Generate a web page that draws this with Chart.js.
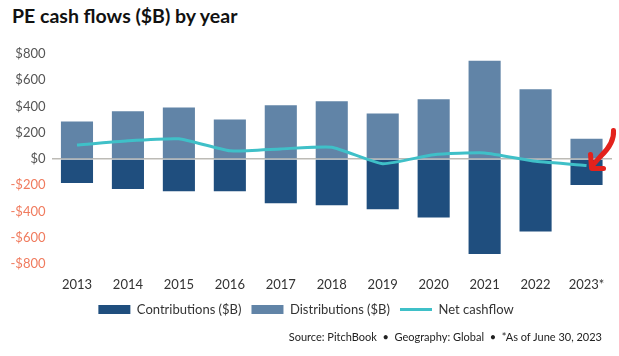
<!DOCTYPE html>
<html>
<head>
<meta charset="utf-8">
<script src="https://cdn.jsdelivr.net/npm/chart.js@4.4.1/dist/chart.umd.min.js"></script>
<style>
  html, body { margin: 0; padding: 0; background: #fff; }
  #wrap { position: relative; width: 619px; height: 356px; overflow: hidden; }
  #title { position: absolute; left: 12px; top: 4px; font-family: Lato, "Open Sans", sans-serif; font-weight: 700; font-size: 19.5px; color: #111; white-space: nowrap; }
  #source { position: absolute; right: 17px; top: 330px; font-family: Lato, "Open Sans", sans-serif; font-size: 11px; color: #222; white-space: nowrap; }
  #c { position: absolute; left: 0; top: 0; }
</style>
</head>
<body>
<div id="wrap">
  <div id="title">PE cash flows ($B) by year</div>
  <canvas id="c" width="619" height="356"></canvas>
  <div id="source">Source: PitchBook &nbsp;•&nbsp; Geography: Global &nbsp;•&nbsp; *As of June 30, 2023</div>
</div>
<script>
const years = ['2013','2014','2015','2016','2017','2018','2019','2020','2021','2022','2023*'];
const contributions = [-183,-229,-245,-245,-337,-352,-383,-445,-723,-553,-198];
const distributions = [285,363,393,301,409,440,347,455,748,532,154];
const netCashflow = [106,139,154,62,77,90,-36,33,46,-18,-49];
const yTicks = [-800,-600,-400,-200,0,200,400,600,800];

const FONT = 'Lato, "Open Sans", sans-serif';

const arrowPlugin = {
  id: 'redArrow',
  afterDatasetsDraw(chart) {
    const meta = chart.getDatasetMeta(2);
    const pt = meta.data[meta.data.length - 1];
    if (!pt) return;
    const x = pt.x, y = pt.y;
    const ctx = chart.ctx;
    ctx.save();
    ctx.strokeStyle = '#E3221C';
    ctx.lineWidth = 5;
    ctx.lineCap = 'round';
    ctx.lineJoin = 'round';
    ctx.beginPath();
    ctx.moveTo(x + 27, y - 35);
    ctx.quadraticCurveTo(x + 28, y - 22, x + 14, y - 9);
    ctx.lineTo(x + 6, y + 0);
    ctx.stroke();
    ctx.beginPath();
    ctx.moveTo(x + 4, y - 11);
    ctx.lineTo(x + 5, y + 3);
    ctx.lineTo(x + 17, y + 3);
    ctx.stroke();
    ctx.restore();
  }
};

new Chart(document.getElementById('c'), {
  data: {
    labels: years,
    datasets: [
      { type: 'bar', label: 'Contributions ($B)', data: contributions, backgroundColor: '#1F4E7E', borderWidth: 0, order: 1, pointStyle: 'rect' },
      { type: 'bar', label: 'Distributions ($B)', data: distributions, backgroundColor: '#6184A7', borderWidth: 0, order: 1, pointStyle: 'rect' },
      { type: 'line', label: 'Net cashflow', data: netCashflow, borderColor: '#3FC0C8', backgroundColor: '#3FC0C8', borderWidth: 3, pointRadius: 0, tension: 0.15, stack: 'net', order: 0, pointStyle: 'line' }
    ]
  },
  options: {
    responsive: false,
    animation: false,
    devicePixelRatio: 1,
    layout: { padding: { top: 54, left: 0, right: 7, bottom: 30 } },
    datasets: { bar: { barPercentage: 0.63, categoryPercentage: 1 } },
    scales: {
      x: {
        stacked: true,
        afterFit(scale) { scale.height = 29; },
        grid: { display: false, drawTicks: false },
        border: { display: false },
        ticks: { color: '#333', font: { family: FONT, size: 13 }, padding: 13, maxRotation: 0 }
      },
      y: {
        stacked: true,
        min: -800, max: 800,
        afterFit(scale) { scale.width = 51.5; },
        afterBuildTicks(scale) { scale.ticks = yTicks.map(v => ({ value: v })); },
        grid: {
          drawTicks: false,
          color: (c) => (c.tick && c.tick.value === 0) ? '#BDBBB6' : 'rgba(0,0,0,0)',
          lineWidth: 1.5
        },
        border: { display: false },
        ticks: {
          padding: 6,
          font: { family: FONT, size: 13 },
          color: (c) => (c.tick && c.tick.value < 0) ? '#F07B5E' : '#555555',
          callback: (v) => (v < 0 ? '-$' + Math.abs(v) : '$' + v)
        }
      }
    },
    plugins: {
      title: { display: false },
      tooltip: { enabled: false },
      legend: {
        position: 'bottom',
        labels: {
          usePointStyle: true,
          pointStyleWidth: 32,
          boxHeight: 9,
          padding: 10,
          color: '#333',
          font: { family: FONT, size: 13 },
          sort: (a, b) => a.datasetIndex - b.datasetIndex,
          generateLabels(chart) {
            const items = Chart.defaults.plugins.legend.labels.generateLabels(chart);
            items.forEach(it => {
              const ds = chart.data.datasets[it.datasetIndex];
              if (ds.type === 'line') { it.lineWidth = 3; it.strokeStyle = ds.borderColor; }
              else { it.lineWidth = 0; }
            });
            return items;
          }
        }
      }
    }
  },
  plugins: [arrowPlugin]
});
</script>
</body>
</html>
